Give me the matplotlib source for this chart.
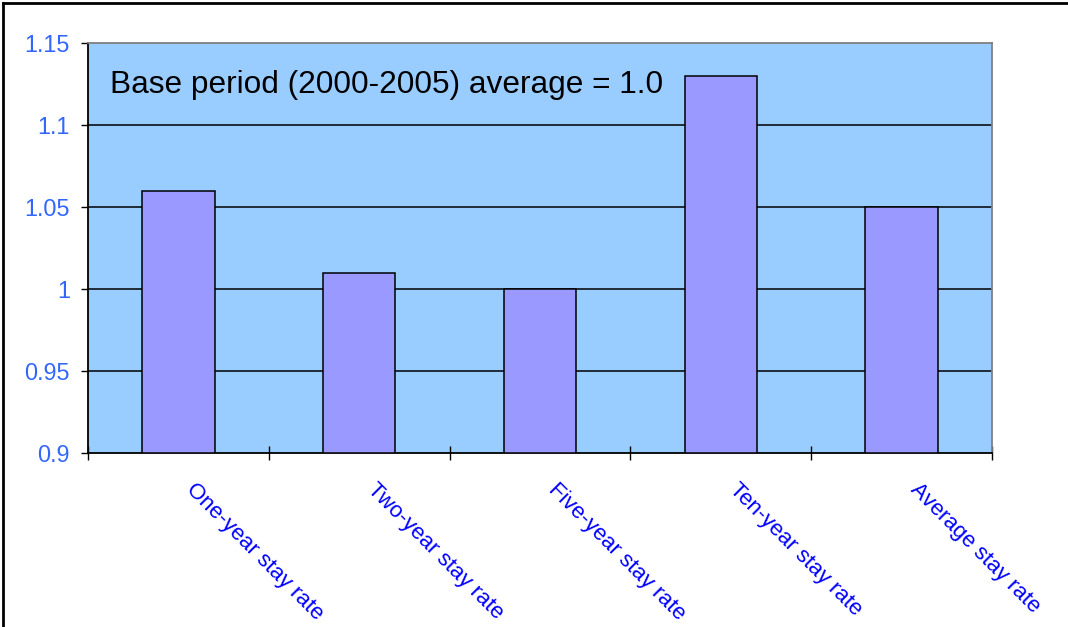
import matplotlib.pyplot as plt
import matplotlib.transforms as mtransforms
from matplotlib.lines import Line2D
import numpy as np

categories = ['One-year stay rate', 'Two-year stay rate', 'Five-year stay rate',
              'Ten-year stay rate', 'Average stay rate']
values = [1.06, 1.01, 1.00, 1.13, 1.05]
yticks = [0.9, 0.95, 1.0, 1.05, 1.1, 1.15]
ytick_labels = ['0.9', '0.95', '1', '1.05', '1.1', '1.15']

plt.rcParams['font.family'] = ['Liberation Sans', 'DejaVu Sans']

W, H = 1068, 627
fig = plt.figure(figsize=(W / 100, H / 100), dpi=100)
ax = fig.add_axes([88 / W, 1 - 453 / H, (992 - 88) / W, (453 - 43) / H])
ax.set_facecolor('#99CCFF')

x = np.arange(len(categories))
ax.bar(x, [v - 0.9 for v in values], bottom=0.9, width=0.4, color='#9999FF',
       edgecolor='black', linewidth=1.1, zorder=3)

ax.set_xlim(-0.5, len(categories) - 0.5)
ax.set_ylim(0.9, 1.15)
ax.set_yticks(yticks)
ax.set_yticklabels(ytick_labels, fontsize=16.8, color='#3366FF')
ax.tick_params(axis='y', direction='out', length=5, width=1, pad=8)
for y in yticks[1:-1]:
    ax.axhline(y, color='black', linewidth=1.1, zorder=2)

ax.set_xticks(np.arange(len(categories) + 1) - 0.5)
ax.set_xticklabels([])
ax.tick_params(axis='x', direction='inout', length=10, width=1)

for side in ['left', 'bottom']:
    ax.spines[side].set_color('black')
    ax.spines[side].set_linewidth(1.3)
for side in ['top', 'right']:
    ax.spines[side].set_color('#808080')
    ax.spines[side].set_linewidth(1.3)

off = mtransforms.ScaledTranslation(4 / 100, -26 / 100, fig.dpi_scale_trans)
for i, lab in enumerate(categories):
    ax.text(i, 0, lab, transform=ax.get_xaxis_transform() + off, rotation=-45,
            ha='left', va='top', fontsize=16, color='#0000FF')

ax.text(110 / W, 1 - 85 / H, 'Base period (2000-2005) average = 1.0',
        transform=fig.transFigure, fontsize=22.8, va='center', ha='left')

# outer frame (left and top only visible)
fig.add_artist(Line2D([3 / W, 3 / W], [0, 1 - 3 / H], color='black', linewidth=2,
                      transform=fig.transFigure))
fig.add_artist(Line2D([3 / W, 1], [1 - 3 / H, 1 - 3 / H], color='black', linewidth=2,
                      transform=fig.transFigure))

fig.savefig('out.png', dpi=100)
